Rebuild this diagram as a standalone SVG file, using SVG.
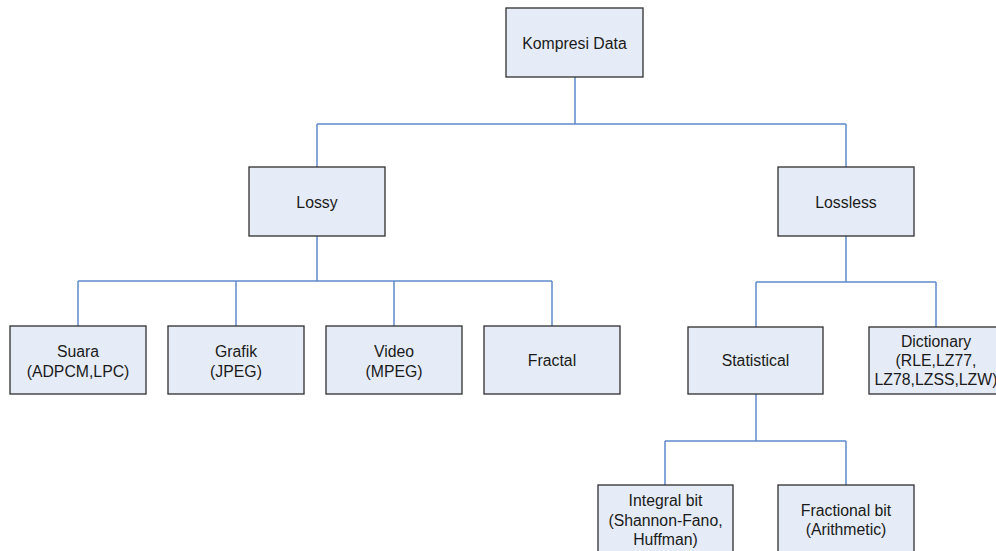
<svg xmlns="http://www.w3.org/2000/svg" width="996" height="551" viewBox="0 0 996 551">
<style>
.box{fill:#E6ECF7;stroke:#2F2F2F;stroke-width:1.3}
.t{font-family:"Liberation Sans",Arial,sans-serif;font-size:15.8px;fill:#1a1a1a;text-anchor:middle;dominant-baseline:central}
.c{fill:none;stroke:#5F8ACB;stroke-width:1.5}
</style>
<rect width="996" height="551" fill="#fff"/>
<g id="connectors">
<path class="c" d="M575 77V124M317 124H846M317 124V167M846 124V167"/>
<path class="c" d="M317 236V281M78 281H552M78 281V326M236 281V326M394 281V326M552 281V326"/>
<path class="c" d="M846 236V282M756 282H936M756 282V327M936 282V327"/>
<path class="c" d="M756 394V441M665 441H846M665 441V485M846 441V485"/>
</g>
<g id="n-kompresi"><rect class="box" x="506" y="8" width="137" height="69"/><text class="t" x="574.5" y="43">Kompresi Data</text></g>
<g id="n-lossy"><rect class="box" x="249" y="167" width="136" height="69"/><text class="t" x="317" y="202">Lossy</text></g>
<g id="n-lossless"><rect class="box" x="778" y="167" width="136" height="69"/><text class="t" x="846" y="202">Lossless</text></g>
<g id="n-suara"><rect class="box" x="10" y="326" width="136" height="68"/><text class="t" x="78" y="351">Suara</text><text class="t" x="78" y="371">(ADPCM,LPC)</text></g>
<g id="n-grafik"><rect class="box" x="168" y="326" width="136" height="68"/><text class="t" x="236" y="351">Grafik</text><text class="t" x="236" y="371">(JPEG)</text></g>
<g id="n-video"><rect class="box" x="326" y="326" width="136" height="68"/><text class="t" x="394" y="351">Video</text><text class="t" x="394" y="371">(MPEG)</text></g>
<g id="n-fractal"><rect class="box" x="484" y="326" width="136" height="68"/><text class="t" x="552" y="360">Fractal</text></g>
<g id="n-statistical"><rect class="box" x="688" y="327" width="135" height="67"/><text class="t" x="755.5" y="360">Statistical</text></g>
<g id="n-dictionary"><rect class="box" x="869" y="327" width="134" height="67"/><text class="t" x="936" y="341">Dictionary</text><text class="t" x="936" y="360">(RLE,LZ77,</text><text class="t" x="936" y="379">LZ78,LZSS,LZW)</text></g>
<g id="n-integral"><rect class="box" x="598" y="485" width="135" height="68"/><text class="t" x="665.5" y="500">Integral bit</text><text class="t" x="665.5" y="520">(Shannon-Fano,</text><text class="t" x="665.5" y="539">Huffman)</text></g>
<g id="n-fractional"><rect class="box" x="778" y="485" width="136" height="68"/><text class="t" x="846" y="510">Fractional bit</text><text class="t" x="846" y="529">(Arithmetic)</text></g>
</svg>
